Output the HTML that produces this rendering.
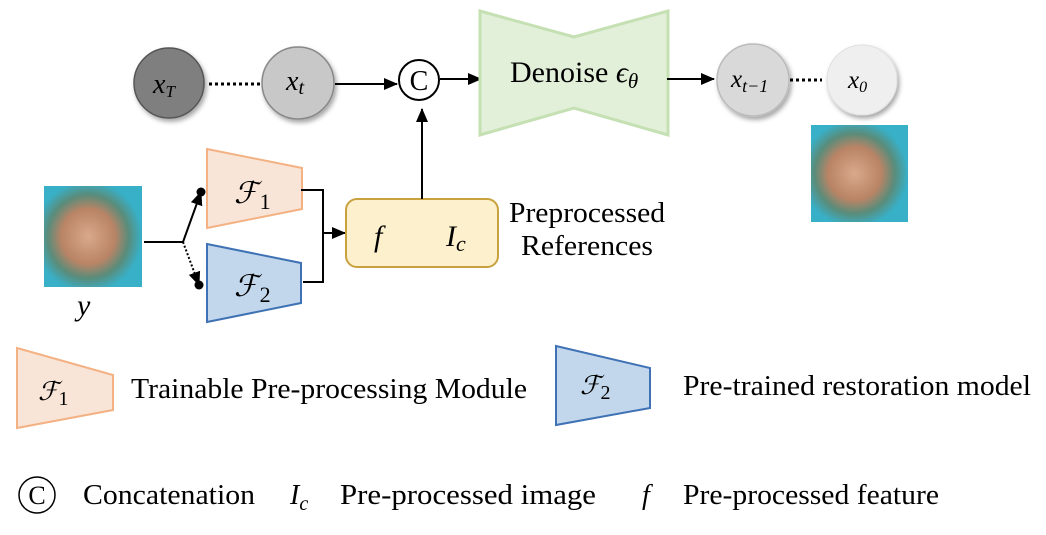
<!DOCTYPE html>
<html><head><meta charset="utf-8"><style>
body{margin:0;background:#fff}
svg text{font-family:"Liberation Serif",serif;fill:#000}
.m{font-style:italic}
</style></head><body>
<svg width="1046" height="530" viewBox="0 0 1046 530" xmlns="http://www.w3.org/2000/svg">
<defs>
<marker id="a" markerWidth="14" markerHeight="14" refX="13" refY="6" orient="auto" markerUnits="userSpaceOnUse"><path d="M0,0 L14,6 L0,12z" fill="#000"/></marker>
<filter id="sh" x="-30%" y="-30%" width="160%" height="160%"><feDropShadow dx="2" dy="3" stdDeviation="2.5" flood-color="#000" flood-opacity="0.35"/></filter>
<radialGradient id="face" cx="45%" cy="50%" r="55%"><stop offset="0" stop-color="#d9a88a"/><stop offset="0.5" stop-color="#b98466"/><stop offset="0.75" stop-color="#5a8c7a"/><stop offset="1" stop-color="#38b0c8"/></radialGradient>
</defs>
<!-- top row -->
<circle cx="169" cy="83" r="35" fill="#7f7f7f" stroke="#555" stroke-width="1.5" filter="url(#sh)"/>
<text x="153" y="93" class="m" font-size="28">x<tspan font-size="17" dy="4">T</tspan></text>
<line x1="209" y1="84" x2="261" y2="84" stroke="#000" stroke-width="3" stroke-dasharray="3,3"/>
<circle cx="298" cy="83" r="36" fill="#c8c8c8" stroke="#888" stroke-width="1.5" filter="url(#sh)"/>
<text x="286" y="90" class="m" font-size="28">x<tspan font-size="20" dy="4">t</tspan></text>
<line x1="335" y1="84" x2="397" y2="84" stroke="#000" stroke-width="2" marker-end="url(#a)"/>
<circle cx="419" cy="80" r="20" fill="#fff" stroke="#000" stroke-width="2"/>
<text x="419" y="90" font-size="28" text-anchor="middle">C</text>
<line x1="440" y1="79" x2="481" y2="79" stroke="#000" stroke-width="2" marker-end="url(#a)"/>
<polygon points="480,11 574,37 668,11 668,135 574,108 480,135" fill="#e2efd9" stroke="#c5e0b3" stroke-width="3"/>
<text x="510" y="82" font-size="30">Denoise <tspan class="m">ϵ</tspan><tspan class="m" font-size="21" dy="6">θ</tspan></text>
<line x1="667" y1="79" x2="714" y2="79" stroke="#000" stroke-width="2" marker-end="url(#a)"/>
<circle cx="753" cy="80" r="36" fill="#d9d9d9" stroke="#bbb" stroke-width="1.5" filter="url(#sh)"/>
<text x="731" y="87" class="m" font-size="25">x<tspan font-size="18" dy="5">t−1</tspan></text>
<line x1="790" y1="80" x2="822" y2="80" stroke="#000" stroke-width="3" stroke-dasharray="3,3"/>
<circle cx="862" cy="80" r="35" fill="#efefef" stroke="#e0e0e0" stroke-width="1" filter="url(#sh)"/>
<text x="848" y="88" class="m" font-size="25">x<tspan font-size="16" dy="4">0</tspan></text>
<rect x="811" y="125" width="97" height="97" fill="url(#face)"/>
<!-- left -->
<rect x="44" y="186" width="98" height="101" fill="url(#face)"/>
<text x="77" y="315" class="m" font-size="30">y</text>
<polyline points="144,242 183,242" fill="none" stroke="#000" stroke-width="2"/>
<line x1="183" y1="242" x2="201" y2="192" stroke="#000" stroke-width="2" marker-end="url(#a)"/>
<circle cx="201" cy="192" r="4.5" fill="#000"/>
<line x1="183" y1="242" x2="199" y2="285" stroke="#000" stroke-width="2" stroke-dasharray="2,2" marker-end="url(#a)"/>
<circle cx="199" cy="285" r="4.5" fill="#000"/>
<polygon points="207,149 302,168 302,209 207,228" fill="#f8e5d7" stroke="#f4b183" stroke-width="2"/>
<text x="234" y="203" class="m" font-size="30">ℱ<tspan font-size="22" font-style="normal" dx="2" dy="6">1</tspan></text>
<polygon points="207,244 301,263 301,303 207,322" fill="#c3d7ec" stroke="#3f72b4" stroke-width="2"/>
<text x="234" y="296" class="m" font-size="30">ℱ<tspan font-size="22" font-style="normal" dx="2" dy="6">2</tspan></text>
<polyline points="301,190 323,190 323,282 303,282" fill="none" stroke="#000" stroke-width="2"/>
<line x1="323" y1="233" x2="345" y2="233" stroke="#000" stroke-width="2" marker-end="url(#a)"/>
<rect x="346" y="199" width="152" height="68" rx="11" fill="#fdf0cc" stroke="#c9a23f" stroke-width="2"/>
<text x="374" y="246" class="m" font-size="30">f</text>
<text x="446" y="246" class="m" font-size="30">I<tspan font-size="22" dy="5">c</tspan></text>
<line x1="422" y1="199" x2="422" y2="109" stroke="#000" stroke-width="2" marker-end="url(#a)"/>
<text x="509" y="222" font-size="28" textLength="156" lengthAdjust="spacingAndGlyphs">Preprocessed</text>
<text x="521" y="255" font-size="28" textLength="132" lengthAdjust="spacingAndGlyphs">References</text>
<!-- legend -->
<polygon points="17,348 113,375 113,410 17,428" fill="#f8e5d7" stroke="#f4b183" stroke-width="2"/>
<text x="38" y="400" class="m" font-size="26">ℱ<tspan font-size="20" font-style="normal" dy="5">1</tspan></text>
<text x="131" y="398" font-size="28" textLength="396" lengthAdjust="spacingAndGlyphs">Trainable Pre-processing Module</text>
<polygon points="556,346 650,368 650,408 556,425" fill="#c3d7ec" stroke="#3f72b4" stroke-width="2"/>
<text x="580" y="394" class="m" font-size="26">ℱ<tspan font-size="20" font-style="normal" dy="5">2</tspan></text>
<text x="683" y="395" font-size="28" textLength="348" lengthAdjust="spacingAndGlyphs">Pre-trained restoration model</text>
<circle cx="37" cy="495" r="18" fill="#fff" stroke="#000" stroke-width="1.5"/>
<text x="37" y="504" font-size="26" text-anchor="middle">C</text>
<text x="83" y="504" font-size="28" textLength="172" lengthAdjust="spacingAndGlyphs">Concatenation</text>
<text x="290" y="504" class="m" font-size="28">I<tspan font-size="20" dy="6">c</tspan></text>
<text x="340" y="504" font-size="28" textLength="256" lengthAdjust="spacingAndGlyphs">Pre-processed  image</text>
<text x="642" y="504" class="m" font-size="28">f</text>
<text x="683" y="504" font-size="28" textLength="256" lengthAdjust="spacingAndGlyphs">Pre-processed feature</text>
</svg>
</body></html>
